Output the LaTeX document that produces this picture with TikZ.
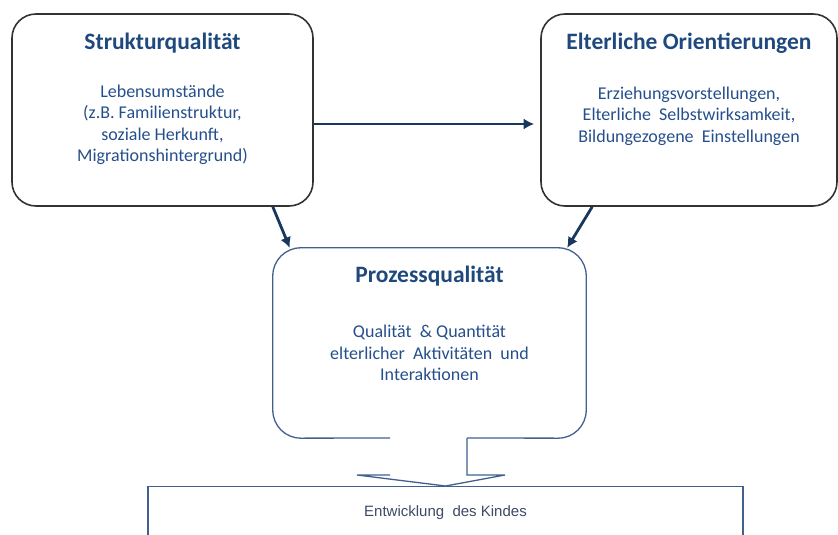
\documentclass[tikz,border=0pt]{standalone}
\usepackage{fontspec}
\setmainfont{Carlito}
\newfontfamily\arialfont{Liberation Sans}
\usepackage{tikz}
\usetikzlibrary{arrows.meta,positioning}
\definecolor{rahmen}{HTML}{333333}
\definecolor{titelblau}{HTML}{1F497D}
\definecolor{textblau}{HTML}{254F8C}
\definecolor{pfeilblau}{HTML}{17375E}
\definecolor{kastenblau}{HTML}{41608F}
\definecolor{grautext}{HTML}{3C4A63}

\begin{document}
\begin{tikzpicture}[x=1pt,y=-1pt,
  box/.style={draw=rahmen,line width=1.6pt,rounded corners=24pt,minimum width=301pt,minimum height=192pt,inner sep=0pt},
  titel/.style={font=\fontsize{23.5}{26}\selectfont\bfseries,text=titelblau,inner sep=0pt},
  inhalt/.style={font=\fontsize{18}{21.5}\selectfont,text=textblau,align=center,inner sep=0pt},
  pfeil/.style={-{Latex[length=10.5pt,width=11pt]},line width=2.8pt,draw=pfeilblau}]
\useasboundingbox (0,0) rectangle (838,535);
%
\node[box] (sq) at (162.5,110) {};
\node[box,minimum width=296pt] (eo) at (689,110) {};
\node[inner sep=0pt,minimum width=313pt,minimum height=190pt] (pq) at (429.5,343) {};
\node[draw=kastenblau,line width=1.2pt,minimum width=595pt,minimum height=60pt,anchor=north] (ek) at (445.5,486) {};
%
\node[titel] (sqtitel) at ([yshift=-30pt]sq.north) {Strukturqualität};
\node[inhalt] (sqtext) at ([yshift=-15pt]sq.center) {Lebensumstände\\(z.B. Familienstruktur,\\soziale Herkunft,\\Migrationshintergrund)};
\node[titel] (eotitel) at ([yshift=-30pt]eo.north) {Elterliche Orientierungen};
\node[inhalt] (eotext) at ([yshift=-6pt]eo.center) {Erziehungsvorstellungen,\\Elterliche\ \ Selbstwirksamkeit,\\Bildungezogene\ \ Einstellungen};
\node[titel] (pqtitel) at ([yshift=-28pt]pq.north) {Prozessqualität};
\node[inhalt] (pqtext) at ([yshift=-10pt]pq.center) {Qualität\ \ \& Quantität\\elterlicher\ \ Aktivitäten\ \ und\\Interaktionen};
\node[font=\arialfont\fontsize{15}{17}\selectfont,text=grautext,inner sep=0pt] (ektext) at ([yshift=-27pt]ek.north) {Entwicklung\ \ des Kindes};
%
\draw[kastenblau,line width=1.3pt,rounded corners=28pt] (390,438) -- (pq.south west) -- (pq.north west) -- (pq.north east) -- (pq.south east) -- (467,438);
\draw[kastenblau,line width=1.3pt] (467,438) -- (467,475) -- (505,475) -- (ek.north) -- (357,475) -- (390,475);
%
\draw[pfeil] ([yshift=-14pt]sq.east) -- ([yshift=-14pt,xshift=-6pt]eo.west);
\draw[pfeil] ([xshift=-41pt]sq.south east) -- ([xshift=17pt]pq.north west);
\draw[pfeil] ([xshift=52pt]eo.south west) -- ([xshift=-19pt]pq.north east);
%
\end{tikzpicture}
\end{document}
